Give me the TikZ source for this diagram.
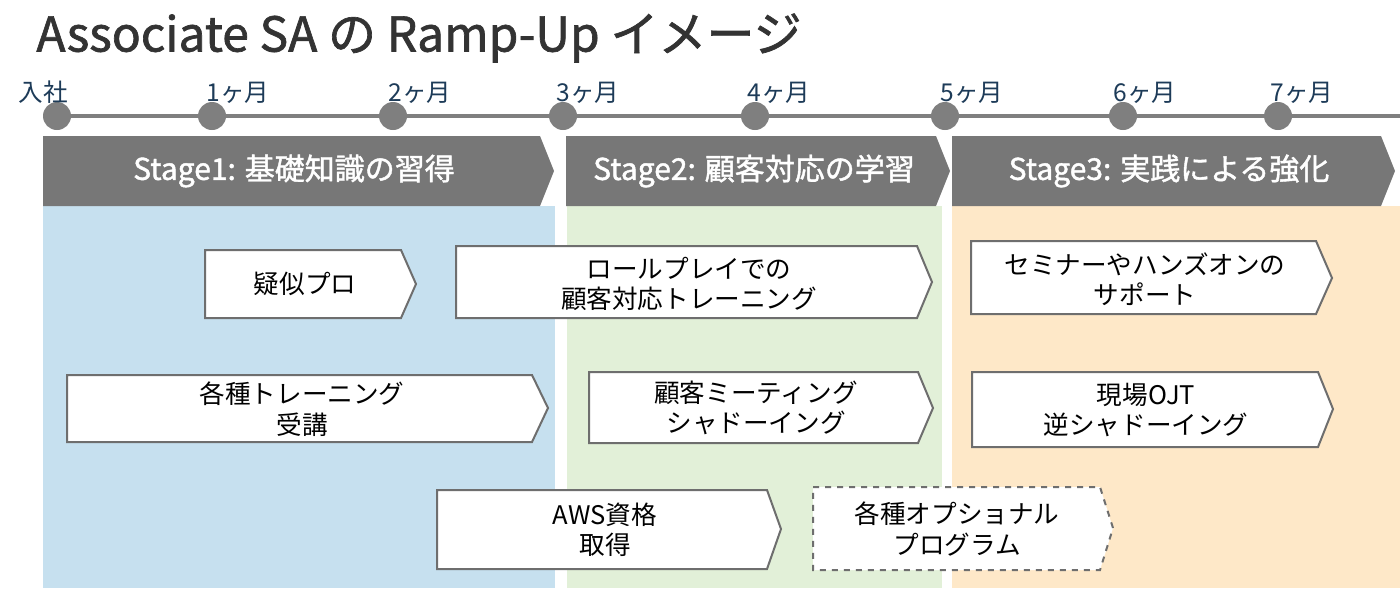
\documentclass[tikz,border=0pt]{standalone}
\usepackage{fontspec}
\setmainfont{Noto Sans CJK JP}
\newfontfamily\medfont[FakeBold=1.4]{Noto Sans CJK JP}
\begin{document}
\begin{tikzpicture}[x=0.5pt,y=-0.5pt,
  box/.style={draw=boxline,fill=white,line width=1pt,line join=miter},
  dbox/.style={box,dashed},
  txt/.style={align=center,text=black,font=\fontsize{12.8pt}{15.2pt}\selectfont,inner sep=0pt},
  stagebox/.style={fill=stagegray,draw=none},
  stagetxt/.style={text=white,font=\medfont\fontsize{15pt}{18pt}\selectfont,inner sep=0pt},
  dot/.style={circle,fill=linegray,minimum size=14pt,inner sep=0pt},
  mlabel/.style={text=navy,font=\fontsize{12.3pt}{14pt}\selectfont,anchor=base west,inner sep=0pt}]
\definecolor{boxline}{HTML}{6E6E6E}
\definecolor{stagegray}{HTML}{777777}
\definecolor{linegray}{HTML}{7F7F7F}
\definecolor{navy}{HTML}{1D3B58}
\definecolor{bgblue}{HTML}{C6E0EF}
\definecolor{bggreen}{HTML}{E2F0D8}
\definecolor{bgorange}{HTML}{FEE8C8}
\definecolor{titlegray}{HTML}{333333}
\useasboundingbox (0,0) rectangle (1400,606);
% title
\node[anchor=west,text=titlegray,font=\medfont\fontsize{24pt}{28pt}\selectfont,inner sep=0pt] (title) at (36,38) {Associate SA の Ramp-Up イメージ};
% backgrounds
\fill[bgblue] (43,206) rectangle (555,588);
\fill[bggreen] (567,206) rectangle (942,588);
\fill[bgorange] (952,206) rectangle (1400,588);
% timeline
\draw[linegray,line width=2pt] (57,116) -- (1400,116);
\foreach \n/\x in {0/57,1/212,2/393,3/563,4/755,5/945,6/1123,7/1278}{
  \node[dot] (d\n) at (\x,116) {};
}
\node[mlabel] (m0) at (18,101) {入社};
\node[mlabel] (m1) at (206,101) {1ヶ月};
\node[mlabel] (m2) at (388,101) {2ヶ月};
\node[mlabel] (m3) at (556,101) {3ヶ月};
\node[mlabel] (m4) at (747,101) {4ヶ月};
\node[mlabel] (m5) at (940,101) {5ヶ月};
\node[mlabel] (m6) at (1113,101) {6ヶ月};
\node[mlabel] (m7) at (1270,101) {7ヶ月};
% stage headers
\fill[stagegray] (43,136) -- (540,136) -- (554,171) -- (540,206) -- (43,206) -- cycle;
\node[stagetxt] (s1) at (294,171) {Stage1: 基礎知識の習得};
\fill[stagegray] (566,136) -- (936,136) -- (950,171) -- (936,206) -- (566,206) -- cycle;
\node[stagetxt] (s2) at (754,171) {Stage2: 顧客対応の学習};
\fill[stagegray] (952,136) -- (1381,136) -- (1395,171) -- (1381,206) -- (952,206) -- cycle;
\node[stagetxt] (s3) at (1169,171) {Stage3: 実践による強化};
% boxes
\draw[box] (205,250) -- (401,250) -- (416,284) -- (401,318) -- (205,318) -- cycle;
\node[txt] (b1) at (305,284) {疑似プロ};
\draw[box] (456,246) -- (917,246) -- (932,282) -- (917,318) -- (456,318) -- cycle;
\node[txt] (b2) at (689,284) {ロールプレイでの\\顧客対応トレーニング};
\draw[box] (971,241) -- (1316,241) -- (1332,278) -- (1316,314) -- (971,314) -- cycle;
\node[txt] (b3) at (1145,279) {セミナーやハンズオンの\\サポート};
\draw[box] (67,375) -- (532,375) -- (548,408) -- (532,442) -- (67,442) -- cycle;
\node[txt] (b4) at (302,409) {各種トレーニング\\受講};
\draw[box] (589,372) -- (918,372) -- (933,408) -- (918,443) -- (589,443) -- cycle;
\node[txt] (b5) at (756,408) {顧客ミーティング\\シャドーイング};
\draw[box] (972,372) -- (1318,372) -- (1333,409) -- (1318,447) -- (972,447) -- cycle;
\node[txt] (b6) at (1146,410) {現場OJT\\逆シャドーイング};
\draw[box] (437,490) -- (767,490) -- (781,529) -- (767,569) -- (437,569) -- cycle;
\node[txt] (b7) at (605,530) {AWS資格\\取得};
\draw[dbox] (813,487) -- (1100,487) -- (1113,528) -- (1100,570) -- (813,570) -- cycle;
\node[txt] (b8) at (957,529) {各種オプショナル\\プログラム};
\end{tikzpicture}
\end{document}
